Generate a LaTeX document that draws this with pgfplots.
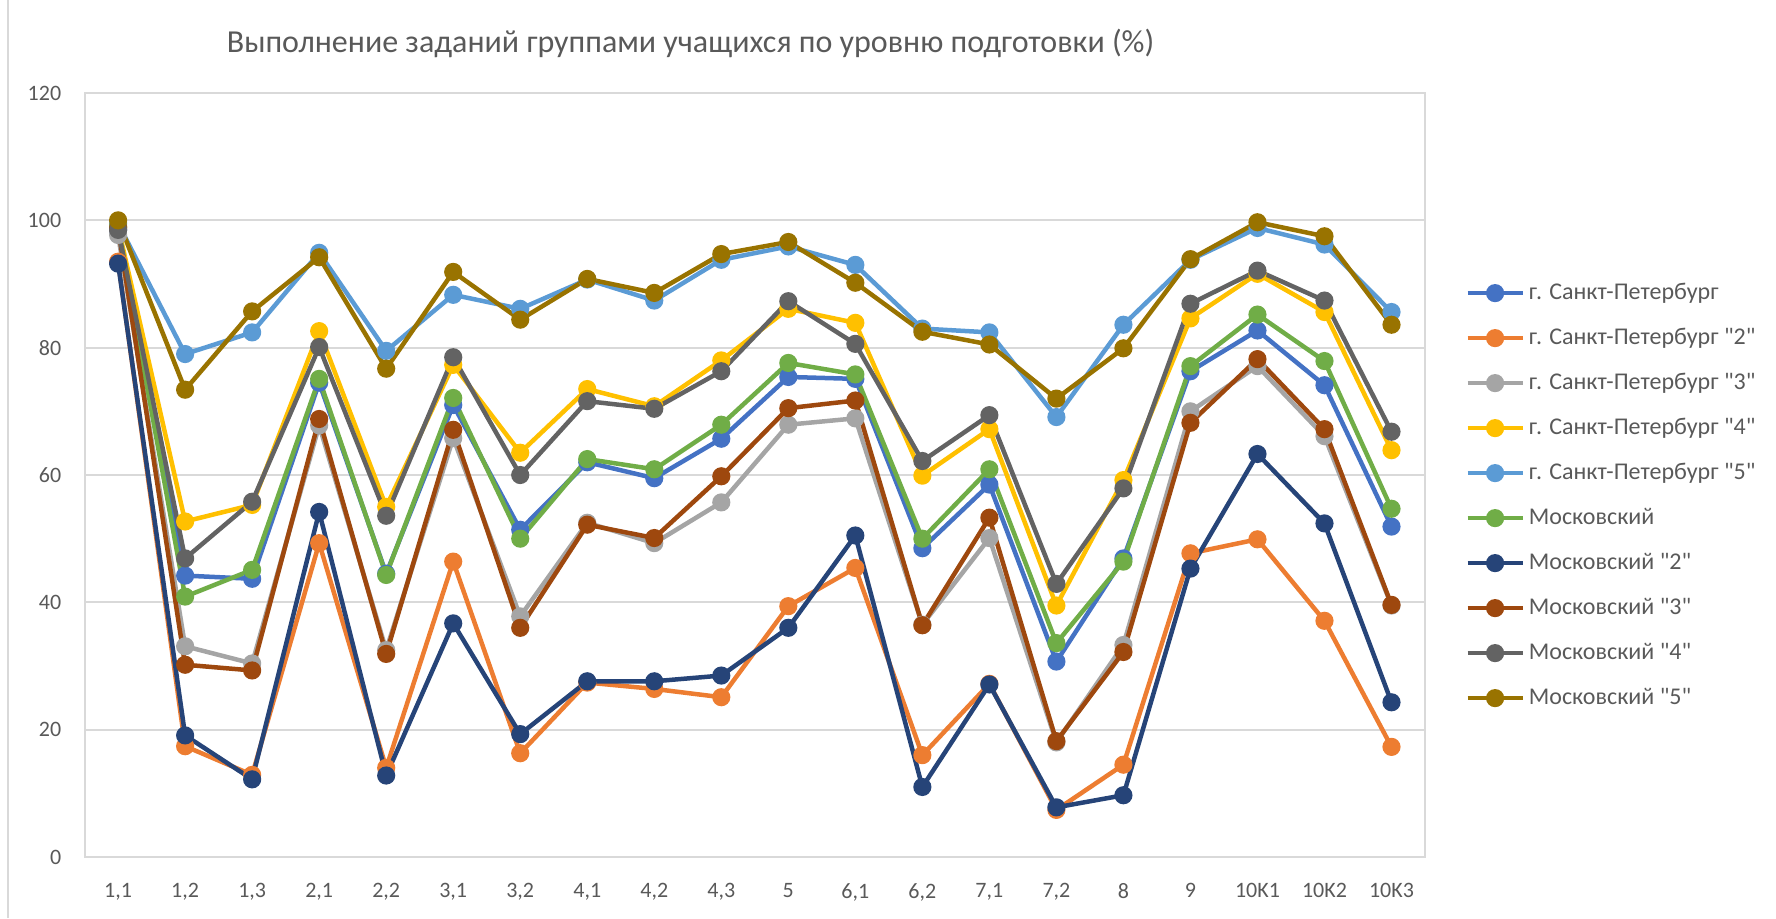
\documentclass[border=0pt]{standalone}
\usepackage{fontspec}
\setmainfont{Carlito}[Ligatures=TeXOff]
\usepackage{pgfplots}
\usepackage{pgfplotstable}
\pgfplotsset{compat=1.18}
\definecolor{c1}{HTML}{4472C4}
\definecolor{c2}{HTML}{ED7D31}
\definecolor{c3}{HTML}{A5A5A5}
\definecolor{c4}{HTML}{FFC000}
\definecolor{c5}{HTML}{5B9BD5}
\definecolor{c6}{HTML}{70AD47}
\definecolor{c7}{HTML}{264478}
\definecolor{c8}{HTML}{9E480E}
\definecolor{c9}{HTML}{636363}
\definecolor{c10}{HTML}{997300}
\definecolor{txt}{HTML}{595959}
\definecolor{grd}{HTML}{D9D9D9}
\pgfplotstableread{
x s1 s2 s3 s4 s5 s6 s7 s8 s9 s10
0 98.5 93.5 97.7 99.0 99.5 99.0 93.2 98.8 98.5 100
1 44.2 17.4 33.1 52.7 79.0 40.9 19.1 30.2 46.9 73.4
2 43.7 12.9 30.4 55.3 82.4 45.1 12.2 29.3 55.8 85.7
3 74.5 49.3 67.8 82.6 94.9 75.1 54.2 68.8 80.1 94.2
4 44.5 14.0 32.5 55.0 79.5 44.3 12.8 31.9 53.6 76.7
5 71.0 46.4 65.8 77.3 88.3 72.1 36.7 67.1 78.5 91.9
6 51.4 16.3 37.8 63.5 86.1 50.0 19.3 36.0 60.0 84.4
7 62.0 27.4 52.5 73.5 90.7 62.5 27.6 52.2 71.6 90.8
8 59.5 26.4 49.3 70.8 87.4 60.9 27.6 50.1 70.4 88.6
9 65.7 25.1 55.7 78.0 93.8 67.9 28.5 59.8 76.3 94.7
10 75.4 39.4 67.9 86.1 95.9 77.6 36.0 70.5 87.3 96.6
11 75.1 45.4 68.9 83.9 93.0 75.8 50.5 71.7 80.6 90.2
12 48.5 16.0 36.5 59.9 83.0 50.0 11.0 36.4 62.2 82.5
13 58.5 27.2 50.1 67.2 82.4 60.9 27.1 53.3 69.4 80.5
14 30.7 7.4 18.0 39.5 69.1 33.6 7.8 18.2 42.9 72.0
15 46.9 14.5 33.3 59.2 83.6 46.4 9.7 32.2 57.9 79.9
16 76.3 47.7 70.0 84.6 93.8 77.1 45.3 68.2 86.9 93.9
17 82.7 49.9 77.1 91.6 98.8 85.2 63.3 78.2 92.1 99.7
18 74.1 37.1 66.1 85.6 96.2 77.9 52.4 67.2 87.4 97.5
19 51.9 17.3 39.5 63.9 85.6 54.7 24.3 39.6 66.8 83.6
}\data
\begin{document}
\begin{tikzpicture}
\path[use as bounding box] (0,0) rectangle (888pt,459pt);
\draw[grd, line width=1pt] (4pt,0) -- (4pt,459pt);
\node[anchor=base, text=txt, font=\fontsize{16}{18}\selectfont, inner sep=0pt] at (345.25pt,432.5pt) {Выполнение заданий группами учащихся по уровню подготовки (\%)};
\begin{axis}[
  at={(42.3pt,30.5pt)}, anchor=south west,
  scale only axis, width=670.2pt, height=382pt,
  xmin=-0.5, xmax=19.5, ymin=0, ymax=120,
  xtick={0,...,19},
  xticklabels={{1,1},{1,2},{1,3},{2,1},{2,2},{3,1},{3,2},{4,1},{4,2},{4,3},{5},{6,1},{6,2},{7,1},{7,2},{8},{9},{10K1},{10K2},{10K3}},
  ytick={0,20,...,120},
  major tick length=0pt,
  ymajorgrids,
  grid style={grd, line width=1pt},
  axis line style={grd, line width=1pt},
  /pgf/number format/assume math mode=true,
  tick label style={text=txt, font=\fontsize{11}{13}\selectfont, inner sep=0pt},
  yticklabel style={anchor=east, xshift=-11.5pt},
  xticklabel style={anchor=north, yshift=-13pt},
  every axis plot/.append style={line width=2.25pt, mark=*, mark size=3.4pt},
  legend image code/.code={\draw[mark repeat=2,mark phase=2] plot coordinates {(0pt,0pt) (13.75pt,0pt) (27.5pt,0pt)};},
  legend cell align=left,
  legend style={at={(axis description cs:1.0298,0.7543)}, anchor=north west, draw=none, fill=none, inner sep=0pt,
    font=\fontsize{12}{14}\selectfont, text=txt, row sep=10.5pt,
    nodes={inner sep=0pt, text height=9pt, text depth=3pt}},
  /tikz/every odd column/.append style={column sep=2pt},
]
\addplot[c1, mark options={draw=none, fill=c1}] table[x=x, y=s1] {\data};
\addlegendentry{г. Санкт-Петербург}
\addplot[c2, mark options={draw=none, fill=c2}] table[x=x, y=s2] {\data};
\addlegendentry{г. Санкт-Петербург "2"}
\addplot[c3, mark options={draw=none, fill=c3}] table[x=x, y=s3] {\data};
\addlegendentry{г. Санкт-Петербург "3"}
\addplot[c4, mark options={draw=none, fill=c4}] table[x=x, y=s4] {\data};
\addlegendentry{г. Санкт-Петербург "4"}
\addplot[c5, mark options={draw=none, fill=c5}] table[x=x, y=s5] {\data};
\addlegendentry{г. Санкт-Петербург "5"}
\addplot[c6, mark options={draw=none, fill=c6}] table[x=x, y=s6] {\data};
\addlegendentry{Московский}
\addplot[c7, mark options={draw=none, fill=c7}] table[x=x, y=s7] {\data};
\addlegendentry{Московский "2"}
\addplot[c8, mark options={draw=none, fill=c8}] table[x=x, y=s8] {\data};
\addlegendentry{Московский "3"}
\addplot[c9, mark options={draw=none, fill=c9}] table[x=x, y=s9] {\data};
\addlegendentry{Московский "4"}
\addplot[c10, mark options={draw=none, fill=c10}] table[x=x, y=s10] {\data};
\addlegendentry{Московский "5"}
\end{axis}
\end{tikzpicture}
\end{document}
